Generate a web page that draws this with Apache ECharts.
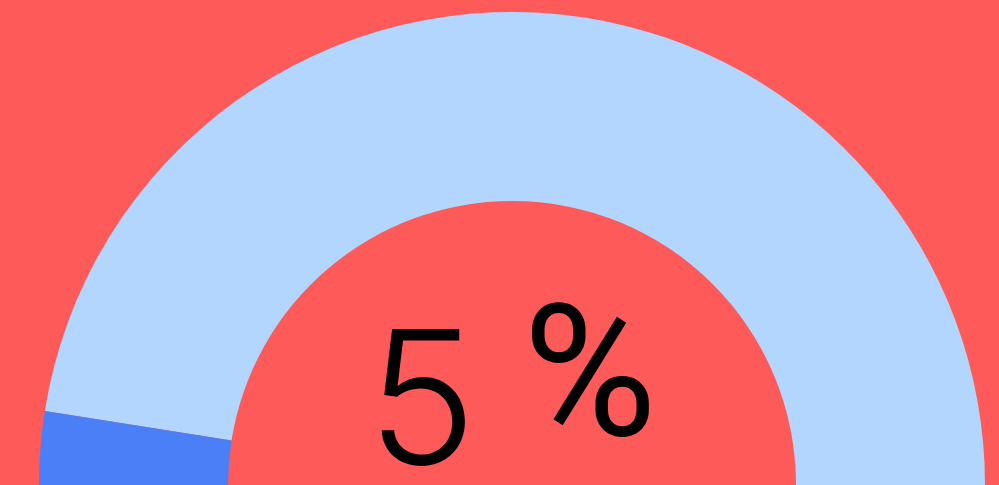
<!DOCTYPE html>
<html><head><meta charset="utf-8">
<script src="https://cdn.jsdelivr.net/npm/echarts@6/dist/echarts.min.js"></script>
<style>html,body{margin:0;padding:0;background:#FF5A5A;}#c{width:999px;height:485px;}</style>
</head><body><div id="c"></div>
<script>
const gaugeValues = [5];
const gaugeUnit = '%';
const chart = echarts.init(document.getElementById('c'));
chart.setOption({
  backgroundColor: '#FF5A5A',
  animation: false,
  series: [{
    type: 'gauge',
    center: [512, 485],
    radius: 473,
    startAngle: 180,
    endAngle: 0,
    min: 0,
    max: 100,
    axisLine: { lineStyle: { width: 189, color: [[gaugeValues[0] / 100, '#4A7FF8'], [1, '#B2D6FE']] } },
    pointer: { show: false },
    axisTick: { show: false },
    splitLine: { show: false },
    axisLabel: { show: false },
    title: { show: false },
    detail: {
      offsetCenter: [0, -77],
      color: '#000',
      formatter: v => '{v|' + v + '}{u|' + gaugeUnit + '}',
      rich: {
        v: { fontFamily: 'Inter', fontWeight: 300, fontSize: 185, color: '#000' },
        u: { fontFamily: 'Roboto', fontWeight: 400, fontSize: 183, color: '#000', padding: [0, 0, 38, 46] }
      }
    },
    data: gaugeValues.map(v => ({ value: v }))
  }]
});
</script></body></html>
